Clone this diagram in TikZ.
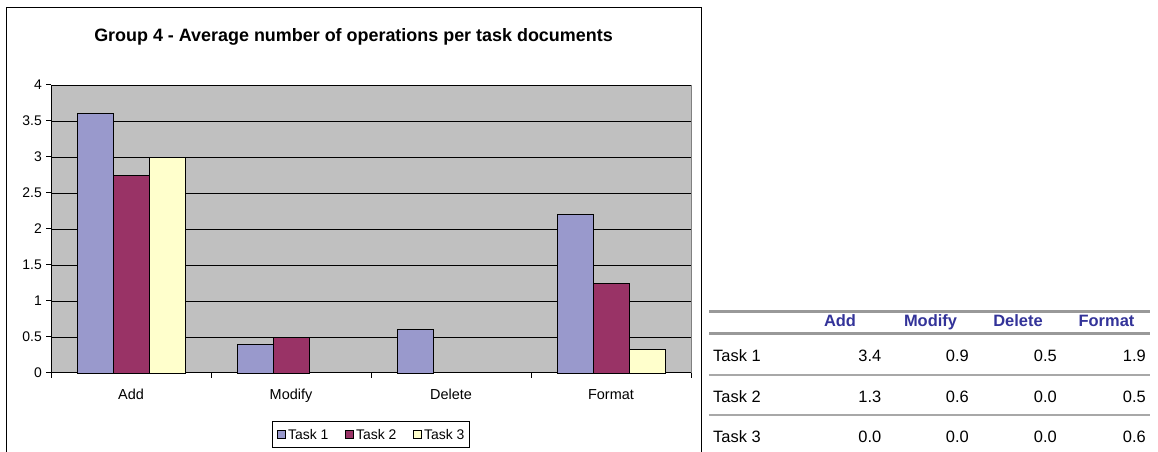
\documentclass[tikz,border=0pt]{standalone}
\usepackage{fontspec}
\setmainfont{Liberation Sans}
\definecolor{plotbg}{HTML}{C0C0C0}
\definecolor{taskA}{HTML}{9999CC}
\definecolor{taskB}{HTML}{993366}
\definecolor{taskC}{HTML}{FFFFCC}
\definecolor{headblue}{HTML}{333399}
\definecolor{rulegray}{HTML}{999999}
\tikzset{
  bar/.style={draw=black, line width=0.9bp},
  grid line/.style={draw=black, line width=0.8bp},
  ylab/.style={anchor=east, inner sep=0pt, font=\fontsize{14}{16}\selectfont},
  xlab/.style={anchor=base, inner sep=0pt, font=\fontsize{14.5}{16}\selectfont},
  leg/.style={anchor=base west, inner sep=0pt, font=\fontsize{14}{16}\selectfont},
  legsq/.style={draw=black, line width=0.8bp},
  legbox/.style={draw=black, line width=0.8bp},
  thead/.style={anchor=base, inner sep=0pt, font=\fontsize{16.5}{18}\selectfont\bfseries, text=headblue},
  tcell/.style={inner sep=0pt, font=\fontsize{16.5}{18}\selectfont},
  thick rule/.style={draw=rulegray, line width=3bp},
  thin rule/.style={draw=rulegray!85, line width=2bp},
}
\begin{document}
\begin{tikzpicture}[x=1bp,y=-1bp]
\useasboundingbox (0,0) rectangle (1158,452);
\fill[white] (0,0) rectangle (1158,452);
% chart frame
\draw[line width=1bp] (6,470) -- (6,8) -- (701,8) -- (701,470);
% title
\node[anchor=base, inner sep=0pt, font=\fontsize{18}{20}\selectfont\bfseries] (title) at (353.5,41.5) {Group 4 - Average number of operations per task documents};
% plot area
\fill[plotbg] (51,85) rectangle (691,373);
\foreach \k in {1,...,8}{
  \draw[grid line] (51,{373-36*\k}) -- (691,{373-36*\k});
}
\draw[draw=gray, line width=0.8bp] (691,85) -- (691,373);
% axes and ticks
\draw[line width=1bp] (51,85) -- (51,373) -- (691,373);
\foreach \k/\lab in {0/0,1/0.5,2/1,3/1.5,4/2,5/2.5,6/3,7/3.5,8/4}{
  \draw[line width=1bp] (46,{373-36*\k}) -- (51,{373-36*\k});
  \node[ylab] (y\k) at (42,{373-36*\k}) {\lab};
}
\foreach \i in {0,...,4}{
  \draw[line width=1bp] ({51+160*\i},373) -- ({51+160*\i},378);
}
% bars
\foreach \i/\va/\vb/\vc in {0/3.6/2.75/3.0, 1/0.4/0.5/0, 2/0.6/0/0, 3/2.2/1.25/0.33}{
  \pgfmathsetmacro{\cx}{131+160*\i}
  \ifdim\va pt>0pt \draw[bar, fill=taskA] ({\cx-54},373) rectangle ({\cx-18},{373-72*\va}); \fi
  \ifdim\vb pt>0pt \draw[bar, fill=taskB] ({\cx-18},373) rectangle ({\cx+18},{373-72*\vb}); \fi
  \ifdim\vc pt>0pt \draw[bar, fill=taskC] ({\cx+18},373) rectangle ({\cx+54},{373-72*\vc}); \fi
}
% category labels
\node[xlab] (cadd) at (131,400) {Add};
\node[xlab] (cmod) at (291,400) {Modify};
\node[xlab] (cdel) at (451,400) {Delete};
\node[xlab] (cfmt) at (611,400) {Format};
% legend
\draw[legbox, fill=white] (272.5,421) rectangle (469.5,447);
\draw[legsq, fill=taskA] (277.5,430.5) rectangle (285,438);
\node[leg] (l1) at (288,439.5) {Task 1};
\draw[legsq, fill=taskB] (345.5,430.5) rectangle (353,438);
\node[leg] (l2) at (356,439.5) {Task 2};
\draw[legsq, fill=taskC] (413.5,430.5) rectangle (421,438);
\node[leg] (l3) at (424,439.5) {Task 3};
% table
\draw[thick rule] (709,311.5) -- (1150,311.5);
\draw[thick rule] (709,333.5) -- (1150,333.5);
\draw[thin rule] (709,375.5) -- (1150,375.5);
\draw[thin rule] (709,415.5) -- (1150,415.5);
\node[thead] (hadd) at (840,327) {Add};
\node[thead] (hmod) at (930.5,327) {Modify};
\node[thead] (hdel) at (1018,327) {Delete};
\node[thead] (hfmt) at (1106.5,327) {Format};
\foreach \r/\ry/\a/\b/\c/\d in {1/361.5/3.4/0.9/0.5/1.9, 2/402.5/1.3/0.6/0.0/0.5, 3/442.5/0.0/0.0/0.0/0.6}{
  \node[tcell, anchor=base west] (r\r) at (713,\ry) {Task \r};
  \node[tcell, anchor=base east] (r\r a) at (881.5,\ry) {\a};
  \node[tcell, anchor=base east] (r\r b) at (969,\ry) {\b};
  \node[tcell, anchor=base east] (r\r c) at (1057,\ry) {\c};
  \node[tcell, anchor=base east] (r\r d) at (1146,\ry) {\d};
}
\end{tikzpicture}
\end{document}
